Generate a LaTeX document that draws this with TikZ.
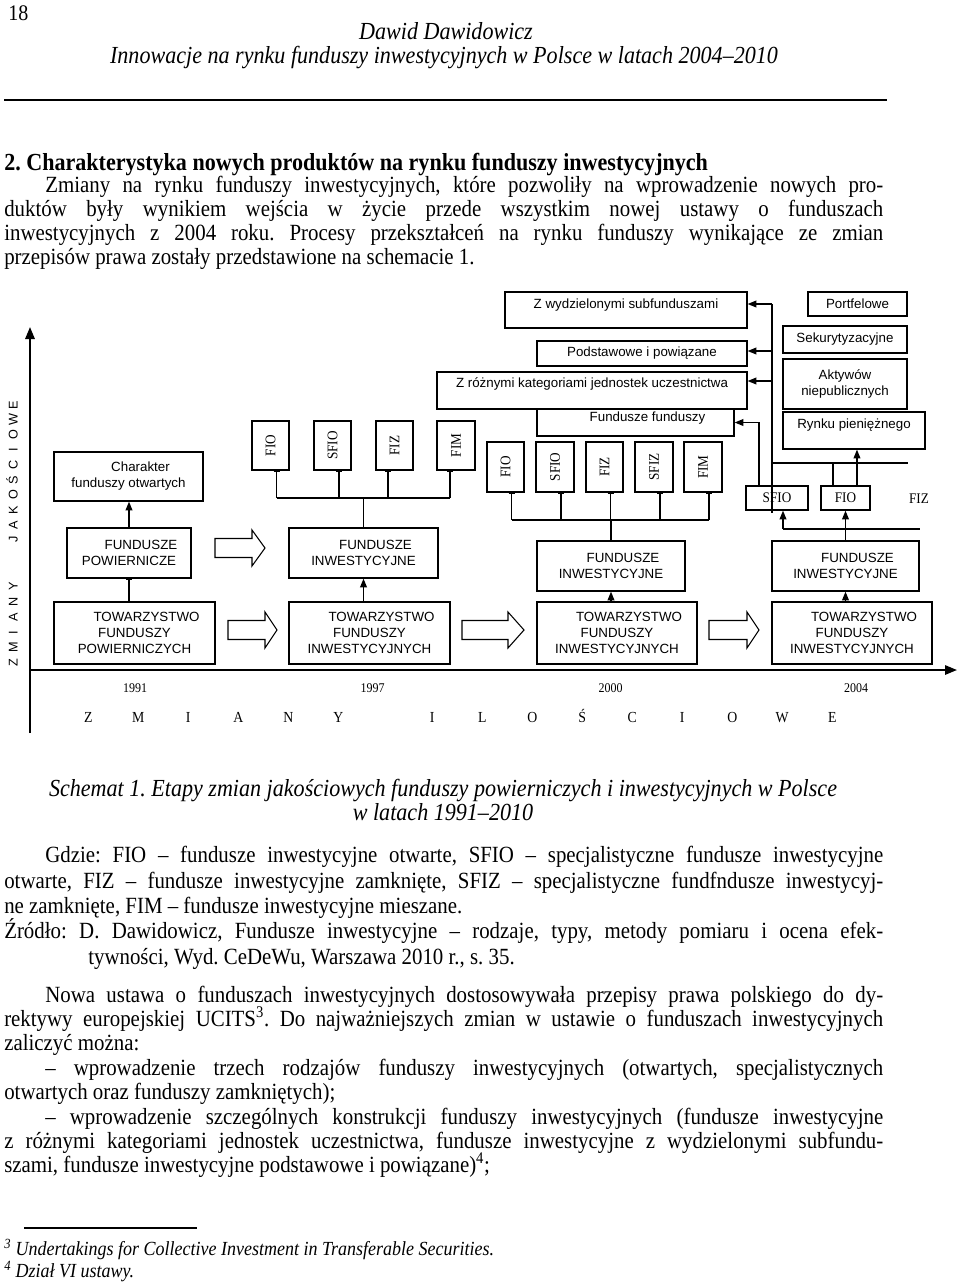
\documentclass[tikz,border=0pt]{standalone}
\usepackage{fontspec}
\setmainfont{Liberation Serif}[FakeStretch=0.9]
\setsansfont{Liberation Sans}
\usetikzlibrary{arrows.meta}
\frenchspacing
\newcommand\bodyf{\fontsize{17.4}{20}\selectfont}
\newcommand\itf{\itshape\fontsize{18.4}{21}\selectfont}
\newcommand\jfull[1]{\makebox[659.25pt][s]{#1}}
\newcommand\jind[1]{\makebox[628.5pt][s]{#1}}
\newcommand\mybox[7][]{\node[bx,minimum width={(#4-#3)*0.75pt},minimum height={(#6-#5)*0.75pt},#1] (#2) at ({(#3+#4)/2},{(#5+#6)/2}) {#7};}
\newcommand\barr[4]{\draw[blk] (#1,#4-9.5) -- (#2,#4-9.5) -- (#2,#4-18) -- (#3,#4) -- (#2,#4+18) -- (#2,#4+9.5) -- (#1,#4+9.5) -- cycle;}
\begin{document}
\begin{tikzpicture}[x=0.75pt,y=-0.75pt,
 bx/.style={draw, line width=0.9pt, inner sep=0pt, font=\sffamily\fontsize{10}{12}\selectfont, align=center},
 vb/.style={bx, font=\rmfamily\fontsize{11}{13}\selectfont},
 ln/.style={line width=1pt},
 arr/.style={line width=1pt, -{Triangle[length=6.5pt,width=5pt]}},
 tick/.style={line width=1pt, -{Bar[width=4.5pt,line width=1.4pt]}},
 ax/.style={line width=1.5pt, -{Triangle[length=9pt,width=7pt]}},
 blk/.style={line width=0.8pt},
 txt/.style={inner sep=0pt, anchor=base west, font=\bodyf},
 itx/.style={inner sep=0pt, anchor=base, font=\itf},
 fnt/.style={inner sep=0pt, anchor=base west, font=\itshape\fontsize{15}{17}\selectfont},
 yr/.style={inner sep=0pt, font=\rmfamily\fontsize{10}{11}\selectfont}
]
\fill[white] (0,0) rectangle (960,1282);
\useasboundingbox (0,0) rectangle (960,1282);

% ---------- header ----------
\node[inner sep=0pt, anchor=base west, font=\fontsize{16.7}{19}\selectfont] (pg) at (8,20) {18};
\node[itx] (au) at (446,39) {Dawid Dawidowicz};
\node[itx] (ti) at (444,63) {Innowacje na rynku funduszy inwestycyjnych w Polsce w latach 2004–2010};
\draw[line width=1.1pt] (4,100) -- (887,100);

\node[txt, font=\bfseries\fontsize{18.4}{21}\selectfont] (hd) at (4,170) {2. Charakterystyka nowych produktów na rynku funduszy inwestycyjnych};
\node[txt] (p1a) at (45,192) {\jind{Zmiany na rynku funduszy inwestycyjnych, które pozwoliły na wprowadzenie nowych pro-}};
\node[txt] (p1b) at (4,216) {\jfull{duktów były wynikiem wejścia w życie przede wszystkim nowej ustawy o funduszach}};
\node[txt] (p1c) at (4,240) {\jfull{inwestycyjnych z 2004 roku. Procesy przekształceń na rynku funduszy wynikające ze zmian}};
\node[txt] (p1d) at (4,264) {przepisów prawa zostały przedstawione na schemacie 1.};

% ---------- axes ----------
\coordinate (vy0) at (30,733);
\coordinate (vy1) at (30,327);
\coordinate (hx0) at (30,670);
\coordinate (hx1) at (957,670);
\draw[ax] (vy0) -- (vy1);
\draw[ax] (hx0) -- (hx1);

\node[rotate=90, anchor=west, inner sep=0pt, font=\sffamily\fontsize{9.5}{10}\selectfont] (lv) at (12,670.6)
 {\makebox[11.4pt]{Z}\makebox[11.4pt]{M}\makebox[11.4pt]{I}\makebox[11.4pt]{A}\makebox[11.4pt]{N}\makebox[11.4pt]{Y}\hspace{23.9pt}%
  \makebox[11.25pt]{J}\makebox[11.25pt]{A}\makebox[11.25pt]{K}\makebox[11.25pt]{O}\makebox[11.25pt]{Ś}\makebox[11.25pt]{C}\makebox[11.25pt]{I}\makebox[11.25pt]{O}\makebox[11.25pt]{W}\makebox[11.25pt]{E}};

\node[anchor=west, inner sep=0pt, font=\rmfamily\fontsize{11.5}{13}\selectfont] (bl) at (63,716)
 {\makebox[37.5pt]{Z}\makebox[37.5pt]{M}\makebox[37.5pt]{I}\makebox[37.5pt]{A}\makebox[37.5pt]{N}\makebox[37.5pt]{Y}\hspace{33pt}%
  \makebox[37.5pt]{I}\makebox[37.5pt]{L}\makebox[37.5pt]{O}\makebox[37.5pt]{Ś}\makebox[37.5pt]{C}\makebox[37.5pt]{I}\makebox[37.5pt]{O}\makebox[37.5pt]{W}\makebox[37.5pt]{E}};

\node[yr] (y91) at (135,688) {1991};
\node[yr] (y97) at (372.5,688) {1997};
\node[yr] (y00) at (610.5,688) {2000};
\node[yr] (y04) at (856,688) {2004};

% ---------- 1991 ----------
\mybox{ch}{54}{203}{452}{501}{\hspace*{18pt}Charakter\\funduszy otwartych}
\mybox{fp91}{67}{191}{528}{578}{\hspace*{18pt}FUNDUSZE\\POWIERNICZE}
\mybox{tfp}{54}{215}{602}{664}{\hspace*{18pt}TOWARZYSTWO\\FUNDUSZY\\POWIERNICZYCH}
\draw[tick] (fp91.south |- tfp.north) -- (fp91.south);
\draw[arr] (fp91.north) -- (fp91.north |- ch.south);

% ---------- 1997 ----------
\mybox{fi97}{289}{438}{528}{578}{\hspace*{18pt}FUNDUSZE\\INWESTYCYJNE}
\mybox{tfi97}{289}{450}{602}{664}{\hspace*{18pt}TOWARZYSTWO\\FUNDUSZY\\INWESTYCYJNYCH}
\mybox[vb]{fio97}{252}{289}{421}{470}{\rotatebox{90}{FIO}}
\mybox[vb]{sfio97}{314}{351}{421}{470}{\rotatebox{90}{SFIO}}
\mybox[vb]{fiz97}{376}{413}{421}{470}{\rotatebox{90}{FIZ}}
\mybox[vb]{fim97}{437}{475}{421}{470}{\rotatebox{90}{FIM}}
\draw[arr] (fi97.south |- tfi97.north) -- (fi97.south);
\coordinate (b97) at (363.5,498);
\draw[ln] (fi97.north) -- (b97);
\coordinate (s971) at ([xshift=4.5pt]fio97.south);
\coordinate (s972) at ([xshift=4.9pt]sfio97.south);
\coordinate (s973) at ([xshift=-4.9pt]fiz97.south);
\coordinate (s974) at ([xshift=-4.5pt]fim97.south);
\draw[ln] (s971 |- b97) -- (s974 |- b97);
\foreach \s in {s971,s972,s973,s974} \draw[tick] (\s |- b97) -- (\s);

% ---------- 2000 ----------
\mybox{fi00}{537}{685}{541}{591}{\hspace*{18pt}FUNDUSZE\\INWESTYCYJNE}
\mybox{tfi00}{537}{697}{602}{664}{\hspace*{18pt}TOWARZYSTWO\\FUNDUSZY\\INWESTYCYJNYCH}
\mybox[vb]{fio00}{487}{524}{442}{492}{\rotatebox{90}{FIO}}
\mybox[vb]{sfio00}{536}{574}{442}{492}{\rotatebox{90}{SFIO}}
\mybox[vb]{fiz00}{586}{623}{442}{492}{\rotatebox{90}{FIZ}}
\mybox[vb]{sfiz00}{635}{673}{442}{492}{\rotatebox{90}{SFIZ}}
\mybox[vb]{fim00}{684}{722}{442}{492}{\rotatebox{90}{FIM}}
\draw[arr] (fi00.south |- tfi00.north) -- (fi00.south);
\coordinate (b00) at (611,520);
\draw[ln] (fi00.north) -- (b00);
\coordinate (s001) at ([xshift=4.5pt]fio00.south);
\coordinate (s002) at ([xshift=4.5pt]sfio00.south);
\coordinate (s003) at ([xshift=4.5pt]fiz00.south);
\coordinate (s004) at ([xshift=4.5pt]sfiz00.south);
\coordinate (s005) at ([xshift=4.5pt]fim00.south);
\draw[ln] (s001 |- b00) -- (s005 |- b00);
\foreach \s in {s001,s002,s003,s004,s005} \draw[tick] (\s |- b00) -- (\s);

\mybox[text depth=9.6pt]{zw}{505}{747}{292}{328}{Z wydzielonymi subfunduszami}
\mybox{pod}{537}{747}{341}{366}{Podstawowe i powiązane}
\mybox[text depth=11.8pt]{zr}{437}{747}{372}{409}{Z różnymi kategoriami jednostek uczestnictwa}
\mybox[text depth=8.8pt]{ff}{537}{734}{409}{436}{\hspace*{18pt}Fundusze funduszy}

% ---------- 2004 ----------
\mybox{fi04}{772}{919}{541}{591}{\hspace*{18pt}FUNDUSZE\\INWESTYCYJNE}
\mybox{tfi04}{772}{932}{602}{664}{\hspace*{18pt}TOWARZYSTWO\\FUNDUSZY\\INWESTYCYJNYCH}
\mybox[vb]{sfio04}{746}{808}{486}{510}{SFIO}
\mybox[vb]{fio04}{821}{870}{486}{510}{FIO}
\node[yr, font=\rmfamily\fontsize{11}{13}\selectfont] (fiz04) at (919,499) {FIZ};
\mybox{port}{808}{907}{292}{316}{Portfelowe}
\mybox{sek}{783}{907}{326}{353}{Sekurytyzacyjne}
\mybox{akt}{783}{907}{359}{409}{Aktywów\\niepublicznych}
\mybox[text depth=10.3pt]{ryn}{783}{925}{412}{449}{Rynku pieniężnego}

\draw[arr] (fi04.south |- tfi04.north) -- (fi04.south);
\draw[arr] (fi04.north) -- (fio04.south);
\coordinate (h4l) at (783,529);
\coordinate (h4r) at (920,529);
\draw[ln] (h4l) -- (h4r);
\draw[arr] (h4l) -- (h4l |- sfio04.south);
\coordinate (g1) at (772,463);
\coordinate (g2) at (908,463);
\coordinate (g3) at (833,463);
\draw[ln] (g1) -- (g2);
\draw[ln] (g3) -- (g3 |- fio04.north);
\coordinate (f4a) at ([xshift=8.6pt]fio04.north);
\draw[arr] (f4a) -- (f4a |- ryn.south);
\coordinate (va) at (772,304);
\coordinate (vb) at (772,351);
\coordinate (vc) at (772,381);
\coordinate (vd) at (772,513);
\draw[ln] (va) -- (vd);
\draw[arr] (va) -- (va -| zw.east);
\draw[arr] (vb) -- (vb -| pod.east);
\draw[arr] (vc) -- (vc -| zr.east);
\coordinate (sq) at ([xshift=-13.5pt]sfio04.north);
\draw[arr] (sq) |- (ff.east);

% ---------- block arrows ----------
\barr{215}{252}{265}{548}
\barr{228}{265}{277}{630}
\barr{462}{508}{524}{630}
\barr{709}{747}{759}{630}

% ---------- text below ----------
\node[itx] (cap1) at (443,796) {Schemat 1. Etapy zmian jakościowych funduszy powierniczych i inwestycyjnych w Polsce};
\node[itx] (cap2) at (443,820) {w latach 1991–2010};
\node[txt] (g1t) at (45,862) {\jind{Gdzie: FIO – fundusze inwestycyjne otwarte, SFIO – specjalistyczne fundusze inwestycyjne}};
\node[txt] (g2t) at (4,888) {\jfull{otwarte, FIZ – fundusze inwestycyjne zamknięte, SFIZ – specjalistyczne fundfndusze inwestycyj-}};
\node[txt] (g3t) at (4,913) {ne zamknięte, FIM – fundusze inwestycyjne mieszane.};
\node[txt] (z1t) at (4,938) {\jfull{Źródło: D. Dawidowicz, Fundusze inwestycyjne – rodzaje, typy, metody pomiaru i ocena efek-}};
\node[txt] (z2t) at (88,964) {tywności, Wyd. CeDeWu, Warszawa 2010 r., s. 35.};
\node[txt] (n1) at (45,1002) {\jind{Nowa ustawa o funduszach inwestycyjnych dostosowywała przepisy prawa polskiego do dy-}};
\node[txt] (n2) at (4,1026) {\jfull{rektywy europejskiej UCITS\textsuperscript{3}. Do najważniejszych zmian w ustawie o funduszach inwestycyjnych}};
\node[txt] (n3) at (4,1050) {zaliczyć można:};
\node[txt] (n4) at (45,1075) {\jind{– wprowadzenie trzech rodzajów funduszy inwestycyjnych (otwartych, specjalistycznych}};
\node[txt] (n5) at (4,1099) {otwartych oraz funduszy zamkniętych);};
\node[txt] (n6) at (45,1124) {\jind{– wprowadzenie szczególnych konstrukcji funduszy inwestycyjnych (fundusze inwestycyjne}};
\node[txt] (n7) at (4,1148) {\jfull{z różnymi kategoriami jednostek uczestnictwa, fundusze inwestycyjne z wydzielonymi subfundu-}};
\node[txt] (n8) at (4,1172) {szami, fundusze inwestycyjne podstawowe i powiązane)\textsuperscript{4};};
\draw[line width=0.8pt] (24,1228) -- (197,1228);
\node[fnt] (f1) at (4,1255) {\textsuperscript{3} Undertakings for Collective Investment in Transferable Securities.};
\node[fnt] (f2) at (4,1277) {\textsuperscript{4} Dział VI ustawy.};
\end{tikzpicture}
\end{document}
